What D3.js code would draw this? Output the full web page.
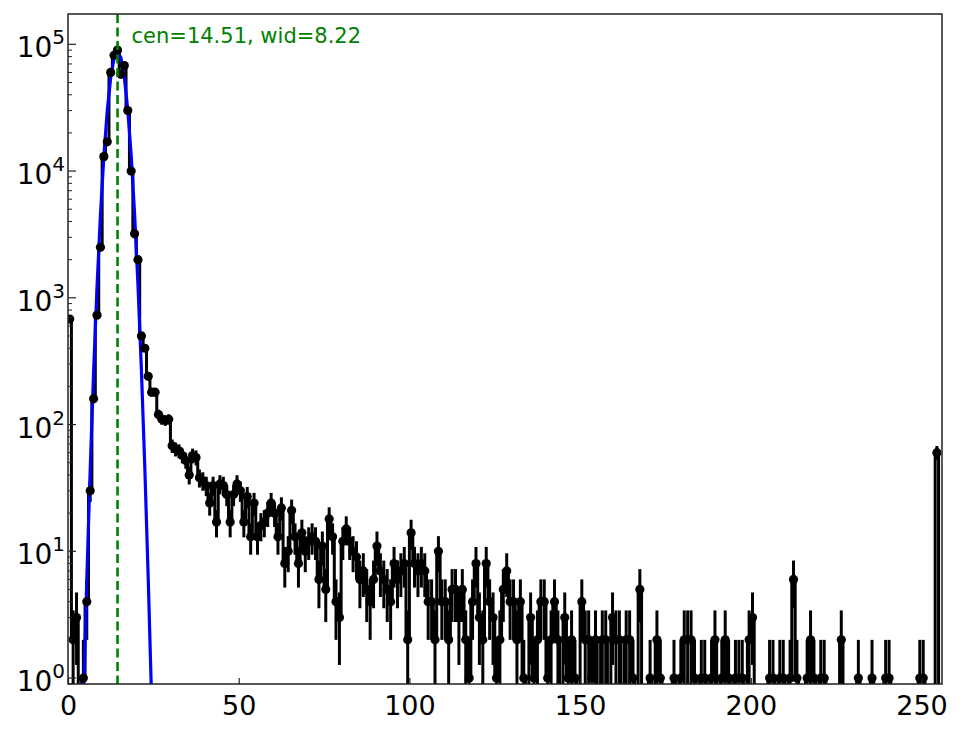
<!DOCTYPE html>
<html>
<head>
<meta charset="utf-8">
<script src="https://cdn.jsdelivr.net/npm/d3@7"></script>
<style>
  body { margin: 0; background: #fff; }
  text { font-family: "DejaVu Sans", sans-serif; }
</style>
</head>
<body>
<div id="chart"></div>
<script>
// histogram counts, one per bin (bin i is centred at i + 0.5)
const counts = [
  680, 2, 3, 0, 1, 4, 30, 160, 730, 2500,
  13000, 17000, 60000, 82000, 90000, 58000, 68000, 30000, 10000, 3200,
  2000, 500, 400, 240, 180, 180, 120, 110, 108, 110,
  68, 64, 62, 57, 52, 40, 57, 55, 38, 36,
  33, 24, 33, 17, 34, 33, 28, 17, 28, 34,
  30, 17, 27, 13, 24, 13, 16, 17, 20, 24,
  20, 13, 22, 8, 10, 21, 13, 8, 14, 10,
  12, 13, 12, 6, 11, 5, 18, 13, 4, 3,
  12, 15, 12, 10, 9, 6, 7, 5, 4, 6,
  11, 7, 6, 5, 4, 8, 6, 7, 8, 2,
  14, 8, 7, 8, 7, 4, 4, 2, 10, 4,
  4, 2, 5, 5, 3, 5, 2, 1, 4, 8,
  3, 2, 8, 4, 3, 1, 2, 5, 7, 4,
  4, 2, 4, 1, 0, 3, 1, 2, 4, 4,
  1, 2, 4, 2, 0, 3, 1, 2, 1, 0,
  4, 2, 2, 1, 2, 0, 2, 2, 0, 3,
  2, 2, 0, 2, 2, 1, 0, 5, 0, 0,
  1, 0, 2, 1, 0, 0, 0, 1, 0, 1,
  2, 2, 2, 1, 0, 1, 1, 0, 1, 2,
  0, 1, 2, 1, 0, 1, 1, 1, 0, 2,
  3, 0, 0, 0, 0, 1, 1, 0, 1, 1,
  0, 1, 6, 1, 0, 0, 1, 2, 1, 0,
  1, 1, 0, 0, 0, 0, 2, 0, 0, 0,
  0, 1, 0, 0, 0, 1, 0, 0, 0, 1,
  1, 0, 0, 0, 0, 0, 0, 0, 0, 1,
  1, 0, 0, 0, 60, 0
];

// gaussian fit, read at the bin centres
const fitBins = [3, 4, 5, 6, 7, 8, 9, 10, 11, 12, 13, 14, 15, 16, 17, 18, 19, 20, 21, 22, 23, 24, 25];
const fitValues = [0.052, 0.62, 5.9, 44, 262, 1222, 4500, 13100, 30000, 54500, 78000, 88000,
                   78400, 55000, 30500, 13360, 4615, 1257, 270, 45.8, 6.1, 0.65, 0.054];
const fitCen = 14.51;
const fitWid = 8.22;

const xTicks = [0, 50, 100, 150, 200, 250];
const yTicks = [1, 10, 100, 1000, 10000, 100000];
const yExponents = ['0', '1', '2', '3', '4', '5'];

const width = 964;
const height = 729;
const margin = {left: 68, right: 22, top: 14, bottom: 45};
const plotW = width - margin.left - margin.right;
const plotH = height - margin.top - margin.bottom;

const xScale = d3.scaleLinear().domain([0, 256]).range([margin.left, margin.left + plotW]);
const yScale = d3.scaleLog().domain([0.897, 1.735e5]).range([margin.top + plotH, margin.top]);
const below = margin.top + plotH + 60;   // where zeros go on a log axis (off the plot)
const yPos = v => v > 0 ? yScale(v) : below;

const data = counts.map((c, i) => ({x: i + 0.5, c: c, err: Math.sqrt(c)}));
const fit = fitBins.map((b, i) => ({x: b + 0.5, v: fitValues[i]}));

const svg = d3.select('#chart').append('svg')
  .attr('width', width)
  .attr('height', height);

svg.append('clipPath').attr('id', 'plotclip')
  .append('rect')
  .attr('x', margin.left).attr('y', margin.top)
  .attr('width', plotW).attr('height', plotH);

const plot = svg.append('g').attr('clip-path', 'url(#plotclip)');

// data: stepped line and error bars
plot.append('path')
  .datum(data)
  .attr('fill', 'none')
  .attr('stroke', 'black')
  .attr('stroke-width', 3)
  .attr('d', d3.line().curve(d3.curveStep).x(d => xScale(d.x)).y(d => yPos(d.c)));

const nonZero = data.filter(d => d.c > 0);

plot.selectAll('line.err').data(nonZero)
  .enter().append('line')
  .attr('class', 'err')
  .attr('x1', d => xScale(d.x))
  .attr('x2', d => xScale(d.x))
  .attr('y1', d => yPos(d.c - d.err))
  .attr('y2', d => yPos(d.c + d.err))
  .attr('stroke', 'black')
  .attr('stroke-width', 3);

// fit curve
plot.append('path')
  .datum(fit)
  .attr('fill', 'none')
  .attr('stroke', '#0000ff')
  .attr('stroke-width', 3.2)
  .attr('d', d3.line().x(d => xScale(d.x)).y(d => yPos(d.v)));

plot.selectAll('circle').data(nonZero)
  .enter().append('circle')
  .attr('cx', d => xScale(d.x))
  .attr('cy', d => yPos(d.c))
  .attr('r', 4.6)
  .attr('fill', 'black');

// fitted centre
plot.append('line')
  .attr('x1', xScale(fitCen)).attr('x2', xScale(fitCen))
  .attr('y1', margin.top).attr('y2', margin.top + plotH)
  .attr('stroke', 'green')
  .attr('stroke-width', 2.6)
  .attr('stroke-dasharray', '9,4.5');

svg.append('text')
  .attr('x', xScale(fitCen) + 14)
  .attr('y', 43)
  .attr('fill', 'green')
  .attr('font-size', 21)
  .text(`cen=${fitCen.toFixed(2)}, wid=${fitWid.toFixed(2)}`);

// axes
const xAxis = svg.append('g')
  .attr('transform', `translate(0,${margin.top + plotH})`)
  .call(d3.axisBottom(xScale).tickValues(xTicks).tickSize(-6).tickPadding(12).tickFormat(d3.format('d')));
xAxis.select('.domain').remove();
xAxis.selectAll('.tick line').attr('stroke', '#222').attr('stroke-width', 1.2);
xAxis.selectAll('.tick text').attr('font-size', 27).attr('fill', 'black')
  .attr('font-family', '"DejaVu Sans", sans-serif');

const minorY = [0.9];
yTicks.forEach(t => {
  for (let k = 2; k <= 9; k++) {
    const v = t * k;
    if (v < yScale.domain()[1]) minorY.push(v);
  }
});

const yAxisG = svg.append('g').attr('transform', `translate(${margin.left},0)`);
yAxisG.selectAll('line.minor').data(minorY)
  .enter().append('line')
  .attr('class', 'minor')
  .attr('x1', 0).attr('x2', 4)
  .attr('y1', d => yScale(d)).attr('y2', d => yScale(d))
  .attr('stroke', '#222').attr('stroke-width', 1);

yAxisG.selectAll('line.major').data(yTicks)
  .enter().append('line')
  .attr('class', 'major')
  .attr('x1', 0).attr('x2', 8)
  .attr('y1', d => yScale(d)).attr('y2', d => yScale(d))
  .attr('stroke', '#222').attr('stroke-width', 1.2);

const yLabels = yAxisG.selectAll('text.ylab').data(yTicks)
  .enter().append('text')
  .attr('class', 'ylab')
  .attr('x', -3)
  .attr('y', d => yScale(d) + 13)
  .attr('text-anchor', 'end')
  .attr('font-size', 28)
  .attr('fill', 'black');
yLabels.append('tspan').text('10');
yLabels.append('tspan')
  .attr('dy', -13)
  .attr('font-size', 20)
  .text((d, i) => yExponents[i]);

// frame
svg.append('rect')
  .attr('x', margin.left).attr('y', margin.top)
  .attr('width', plotW).attr('height', plotH)
  .attr('fill', 'none')
  .attr('stroke', '#222')
  .attr('stroke-width', 1.5);
</script>
</body>
</html>
